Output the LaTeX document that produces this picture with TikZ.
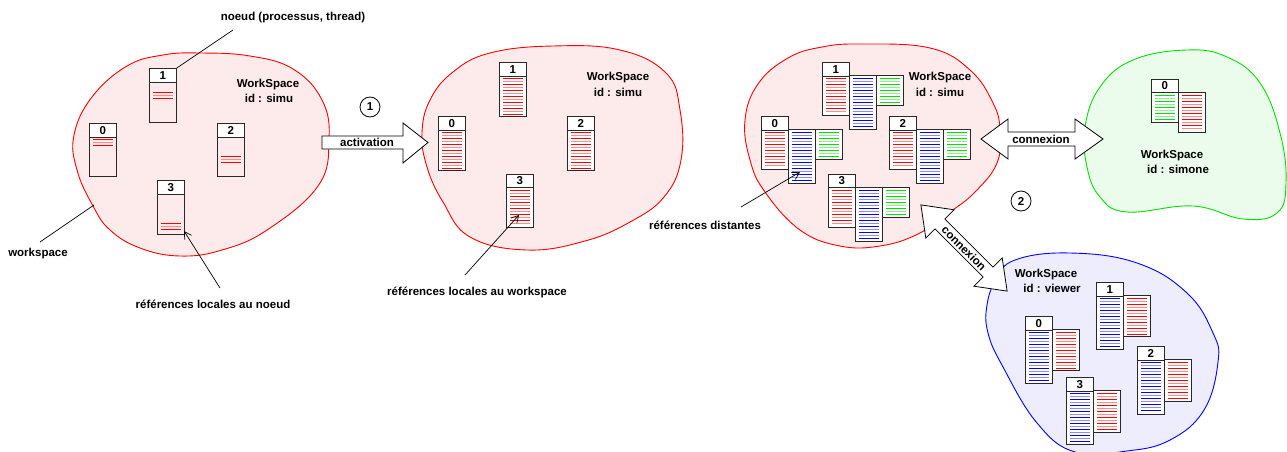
\documentclass[tikz,border=0pt]{standalone}
\usepackage{fontspec}
\setmainfont{Liberation Sans}
\usetikzlibrary{arrows.meta}
\definecolor{redfill}{RGB}{253,235,235}
\definecolor{greenfill}{RGB}{236,252,236}
\definecolor{bluefill}{RGB}{237,237,253}
\definecolor{myred}{RGB}{255,0,0}
\definecolor{mygreen}{RGB}{0,225,0}
\definecolor{myblue}{RGB}{0,0,255}
\definecolor{boxc}{RGB}{40,40,40}
\tikzset{
  boxline/.style={draw=boxc,line width=0.8pt},
  stripe/.style={line width=0.8pt},
  hdrbox/.style={draw=boxc,line width=0.8pt,fill=white,minimum width=27pt,minimum height=13.5pt,inner sep=0pt,anchor=north west,font=\bfseries\fontsize{11.5}{12}\selectfont},
  lbl/.style={font=\bfseries\fontsize{11.5}{12}\selectfont,inner sep=1pt},
  blob/.style={line width=0.9pt},
  bigarrow/.style={draw=black,fill=white,line width=0.8pt,line join=miter},
  pointer/.style={draw=black,line width=0.7pt,-{Straight Barb[length=7pt,width=8pt]}},
  plain/.style={draw=black,line width=0.7pt},
  numcirc/.style={circle,draw=black,line width=0.8pt,minimum size=20pt,inner sep=0pt,font=\bfseries\fontsize{11.5}{12}\selectfont}
}
\newcommand{\colbox}[5]{%
  \draw[boxline,fill=white] (#1,#2) rectangle (#3,#4);
  \pgfmathtruncatemacro{\nlines}{floor(((#4)-(#2)-5)/3.0)}
  \foreach \k in {0,...,\nlines}{
    \pgfmathsetmacro{\yy}{#2+3.2+\k*3.0}
    \ifodd\k \def\lc{#5!45}\else\def\lc{#5}\fi
    \draw[stripe,draw=\lc] (#1+3.5,\yy) -- (#3-3.5,\yy);
  }
}
\newcommand{\fewlines}[4]{% x1 x2 color list of y
  \foreach \yy [count=\k] in {#4}{
    \ifodd\k \def\lc{#3}\else\def\lc{#3!45}\fi
    \draw[stripe,draw=\lc] (#1+3.5,\yy) -- (#2-3.5,\yy);
  }
}
\begin{document}
\begin{tikzpicture}[x=1pt,y=-1pt]
\useasboundingbox (0,0) rectangle (1287,452);

% ---------- blobs ----------
\draw[blob,draw=myred,fill=redfill] plot[smooth cycle,tension=0.7] coordinates {
 (200,53) (250,56) (293,69) (322,100) (329,140) (318,186) (267,230) (222,250) (180,256) (140,248) (110,230) (93,206) (77,170) (74,135) (92,97) (127,66) (163,55)};
\draw[blob,draw=myred,fill=redfill] plot[smooth cycle,tension=0.7] coordinates {
 (553,46) (620,50) (666,73) (680,110) (681,160) (664,197) (630,222) (585,241) (527,250) (470,237) (443,202) (427,167) (422,133) (430,100) (453,72) (490,53)};
\draw[blob,draw=myred,fill=redfill] plot[smooth cycle,tension=0.7] coordinates {
 (862,44) (930,48) (970,70) (993,103) (1000,130) (997,163) (975,192) (950,212) (918,234) (880,246) (840,246) (800,230) (765,192) (750,160) (745,120) (758,84) (788,58) (822,47)};
\draw[blob,draw=mygreen,fill=greenfill] plot[smooth cycle,tension=0.7] coordinates {
 (1187,50) (1227,57) (1260,83) (1280,133) (1286,183) (1277,213) (1243,219) (1193,206) (1127,212) (1100,197) (1087,167) (1085,127) (1100,87) (1133,60)};
\draw[blob,draw=myblue,fill=bluefill] plot[smooth cycle,tension=0.7] coordinates {
 (1070,253) (1137,263) (1187,293) (1213,333) (1218,362) (1204,410) (1170,440) (1127,451) (1075,452) (1037,423) (1003,367) (988,333) (987,305) (996,280) (1015,260)};

% ---------- left workspace ----------
\draw[boxline] (149,81) rectangle (176,122);
\fewlines{149}{176}{myred}{92,95,98}
\node[hdrbox] (a1) at (149,68) {1};
\draw[boxline] (89,136) rectangle (116,176);
\fewlines{89}{116}{myred}{139,142,145}
\node[hdrbox] (a0) at (89,123) {0};
\draw[boxline] (217,136) rectangle (244,176);
\fewlines{217}{244}{myred}{156,159,162}
\node[hdrbox] (a2) at (217,123) {2};
\draw[boxline] (157,193) rectangle (184,234);
\fewlines{157}{184}{myred}{223,226,229}
\node[hdrbox] (a3) at (157,180) {3};
\node[lbl] (wsA) at (268,85) {WorkSpace};
\node[lbl] (idA) at (269,98) {id : simu};

% ---------- middle workspace ----------
\colbox{438}{129}{465}{170}{myred}
\node[hdrbox] (b0) at (438,116) {0};
\colbox{499}{75}{526}{116}{myred}
\node[hdrbox] (b1) at (499,62) {1};
\colbox{567}{129}{594}{170}{myred}
\node[hdrbox] (b2) at (567,116) {2};
\colbox{506}{187}{533}{227}{myred}
\node[hdrbox] (b3) at (506,173.5) {3};
\node[lbl] (wsB) at (618,78) {WorkSpace};
\node[lbl] (idB) at (618,92) {id : simu};

% ---------- right red workspace ----------
\colbox{822}{75}{849}{115}{myred}
\colbox{849}{75}{876}{129}{myblue}
\colbox{876}{75}{903}{105}{mygreen}
\node[hdrbox] (c1) at (822,62) {1};
\colbox{761}{129}{788}{169}{myred}
\colbox{788}{129}{815}{183}{myblue}
\colbox{815}{129}{842}{159}{mygreen}
\node[hdrbox] (c0) at (761,116) {0};
\colbox{889}{129}{916}{169}{myred}
\colbox{916}{129}{943}{183}{myblue}
\colbox{943}{129}{970}{159}{mygreen}
\node[hdrbox] (c2) at (889,116) {2};
\colbox{828}{187}{855}{227}{myred}
\colbox{855}{187}{882}{241}{myblue}
\colbox{882}{187}{909}{217}{mygreen}
\node[hdrbox] (c3) at (828,173.5) {3};
\node[lbl] (wsC) at (940,78) {WorkSpace};
\node[lbl] (idC) at (940,92) {id : simu};

% ---------- green workspace ----------
\colbox{1151}{92}{1178}{122}{mygreen}
\colbox{1178}{92}{1205}{132}{myred}
\node[hdrbox] (d0) at (1151,78.5) {0};
\node[lbl] (wsD) at (1172,156) {WorkSpace};
\node[lbl] (idD) at (1178,169) {id : simone};

% ---------- blue workspace ----------
\colbox{1096}{295}{1123}{349}{myblue}
\colbox{1123}{295}{1150}{336}{myred}
\node[hdrbox] (e1) at (1096,282) {1};
\colbox{1025}{329}{1052}{383}{myblue}
\colbox{1052}{329}{1079}{370}{myred}
\node[hdrbox] (e0) at (1025,316) {0};
\colbox{1137}{359}{1164}{414}{myblue}
\colbox{1164}{359}{1191}{401}{myred}
\node[hdrbox] (e2) at (1137,346) {2};
\colbox{1066}{390}{1093}{444}{myblue}
\colbox{1093}{390}{1120}{432}{myred}
\node[hdrbox] (e3) at (1066,377) {3};
\node[lbl] (wsE) at (1046,275) {WorkSpace};
\node[lbl] (idE) at (1052,288) {id : viewer};

% ---------- big arrows ----------
\draw[bigarrow] (322,136) -- (403,136) -- (403,123) -- (428,142.5) -- (403,163) -- (403,149) -- (322,149) -- cycle;
\node[lbl] (act) at (367,142.5) {activation};
\draw[bigarrow] (981,139) -- (1008,119) -- (1008,132) -- (1075,132) -- (1075,119) -- (1103,139) -- (1075,159) -- (1075,146) -- (1008,146) -- (1008,159) -- cycle;
\node[lbl] (cx1) at (1041,139) {connexion};
\draw[bigarrow] (920.9,204.9) -- (954.1,209.8) -- (944.9,219.0) -- (993.0,267.1) -- (1002.2,257.9) -- (1007.1,291.1) -- (973.9,286.2) -- (983.1,277.0) -- (935.0,228.9) -- (925.8,238.1) -- cycle;
\node[lbl,rotate=-45] (cx2) at (964,248) {connexion};

\node[numcirc] (n1) at (370,107) {1};
\node[numcirc] (n2) at (1021,201) {2};

% ---------- annotations ----------
\node[lbl] (lnoeud) at (293,18) {noeud (processus, thread)};
\coordinate (lnoeudS) at (233,30);
\draw[plain] (lnoeudS) -- (a1.north east);
\node[lbl] (lws) at (38,254) {workspace};
\coordinate (lwsS) at (40,242);
\coordinate (lwsT) at (94,205);
\draw[plain] (lwsS) -- (lwsT);
\node[lbl] (lrn) at (213,304) {références locales au noeud};
\coordinate (lrnS) at (220,288);
\coordinate (lrnT) at (184,231);
\draw[pointer] (lrnS) -- (lrnT);
\node[lbl] (lrw) at (477,292) {références locales au workspace};
\coordinate (lrwS) at (465,275);
\coordinate (lrwT) at (519,215);
\draw[pointer] (lrwS) -- (lrwT);
\node[lbl] (lrd) at (705,225) {références distantes};
\coordinate (lrdS) at (741,207);
\coordinate (lrdT) at (800,172);
\draw[pointer] (lrdS) -- (lrdT);
\end{tikzpicture}
\end{document}
